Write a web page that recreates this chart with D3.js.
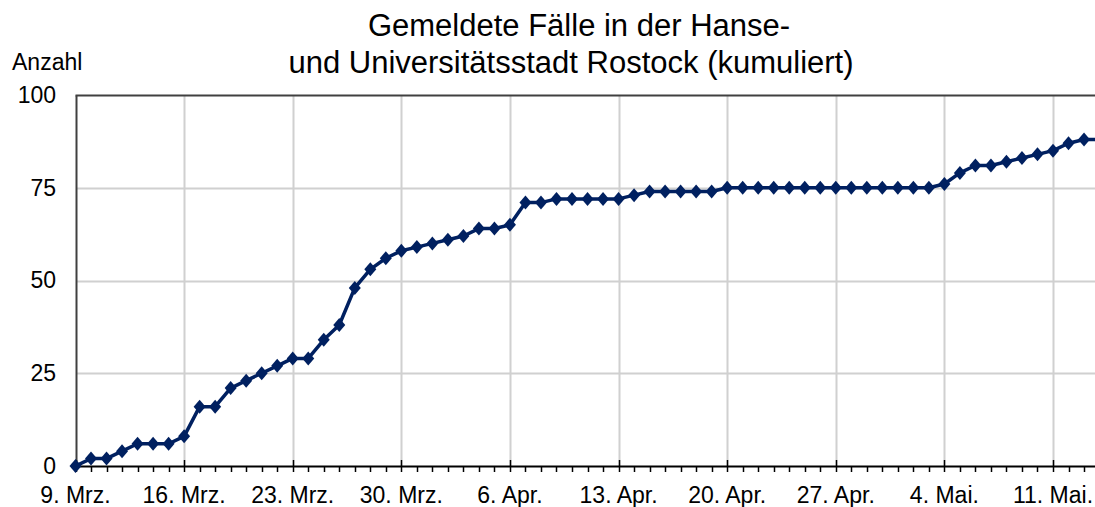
<!DOCTYPE html>
<html>
<head>
<meta charset="utf-8">
<script src="https://cdn.jsdelivr.net/npm/d3@7"></script>
<style>
  body { margin: 0; background: #fff; }
  text { font-family: Arial, "Liberation Sans", sans-serif; fill: #000; }
</style>
</head>
<body>
<div id="chart"></div>
<script>
const width = 1095, height = 507;

// daily cumulative cases from 9 March 2020
const startDate = "2020-03-09";
const cases = [
  0, 2, 2, 4, 6, 6, 6, 8, 16, 16, 21, 23, 25, 27, 29, 29, 34, 38, 48, 53,
  56, 58, 59, 60, 61, 62, 64, 64, 65, 71, 71, 72, 72, 72, 72, 72, 73, 74, 74, 74,
  74, 74, 75, 75, 75, 75, 75, 75, 75, 75, 75, 75, 75, 75, 75, 75, 76, 79, 81, 81,
  82, 83, 84, 85, 87, 88, 88
];
const yTicks = [0, 25, 50, 75, 100];
const xTickLabels = ["9. Mrz.", "16. Mrz.", "23. Mrz.", "30. Mrz.", "6. Apr.", "13. Apr.", "20. Apr.", "27. Apr.", "4. Mai.", "11. Mai."];
const titleLines = ["Gemeldete Fälle in der Hanse-", "und Universitätsstadt Rostock (kumuliert)"];

const parse = d3.timeParse("%Y-%m-%d");
const t0 = parse(startDate);
const data = cases.map((v, i) => ({ date: d3.timeDay.offset(t0, i), value: v }));
const weekTicks = xTickLabels.map((l, i) => d3.timeDay.offset(t0, i * 7));

const svg = d3.select("#chart").append("svg")
  .attr("width", width).attr("height", height);

const x = d3.scaleTime()
  .domain([weekTicks[0], weekTicks[weekTicks.length - 1]])
  .range([75.5, 1053]);
const y = d3.scaleLinear().domain([0, 100]).range([466, 95]);

const xRight = width + 5;

// horizontal grid
svg.append("g").selectAll("line")
  .data(yTicks.filter(d => d > 0 && d < 100))
  .join("line")
  .attr("x1", 76).attr("x2", xRight)
  .attr("y1", d => Math.round(y(d)) + 0.5).attr("y2", d => Math.round(y(d)) + 0.5)
  .attr("stroke", "#d0d0d0").attr("stroke-width", 2);

// vertical grid
svg.append("g").selectAll("line")
  .data(weekTicks.slice(1))
  .join("line")
  .attr("x1", d => Math.round(x(d)) + 0.5).attr("x2", d => Math.round(x(d)) + 0.5)
  .attr("y1", 95).attr("y2", 466)
  .attr("stroke", "#d0d0d0").attr("stroke-width", 2);

// top border
svg.append("line")
  .attr("x1", 75.5).attr("x2", xRight).attr("y1", 95.5).attr("y2", 95.5)
  .attr("stroke", "#404040").attr("stroke-width", 2);

// y axis
const yAxis = svg.append("g")
  .attr("transform", "translate(76,0)")
  .call(d3.axisLeft(y).tickValues(yTicks).tickSize(0).tickPadding(20));
yAxis.select(".domain").attr("stroke", "#404040").attr("stroke-width", 2);
yAxis.selectAll("text")
  .attr("font-family", "Arial, 'Liberation Sans', sans-serif")
  .attr("font-size", 23).style("font-size", "23px").attr("fill", "#000");

// x axis, daily minor ticks (weekly ticks cross the axis)
const days = d3.timeDay.range(t0, d3.timeDay.offset(t0, 70));
svg.append("g").selectAll("line")
  .data(days)
  .join("line")
  .attr("x1", d => Math.round(x(d)) + 0.5).attr("x2", d => Math.round(x(d)) + 0.5)
  .attr("y1", d => weekTicks.some(w => +w === +d) ? 460 : 466)
  .attr("y2", 472)
  .attr("stroke", "#000").attr("stroke-width", 1.5);

svg.append("line")
  .attr("x1", 76).attr("x2", xRight).attr("y1", 466.5).attr("y2", 466.5)
  .attr("stroke", "#000").attr("stroke-width", 2);

svg.append("g").selectAll("text")
  .data(weekTicks)
  .join("text")
  .attr("x", d => x(d))
  .attr("y", 503)
  .attr("text-anchor", "middle")
  .style("font-size", "23px")
  .text((d, i) => xTickLabels[i]);

// line
const line = d3.line().x(d => x(d.date)).y(d => y(d.value));
svg.append("path")
  .datum(data)
  .attr("d", line)
  .attr("fill", "none")
  .attr("stroke", "#002060")
  .attr("stroke-width", 3.5)
  .attr("stroke-linejoin", "round");

// diamond markers
svg.append("g").selectAll("path")
  .data(data)
  .join("path")
  .attr("transform", d => `translate(${x(d.date)},${y(d.value)})`)
  .attr("d", "M0,-7L6,0L0,7L-6,0Z")
  .attr("fill", "#002060");

// title
svg.append("g").selectAll("text")
  .data(titleLines)
  .join("text")
  .attr("x", (d, i) => i === 0 ? 579 : 571)
  .attr("y", (d, i) => 36 + i * 37)
  .attr("text-anchor", "middle")
  .style("font-size", "31px")
  .text(d => d);

svg.append("text")
  .attr("x", 12).attr("y", 70)
  .style("font-size", "23px")
  .text("Anzahl");
</script>
</body>
</html>
